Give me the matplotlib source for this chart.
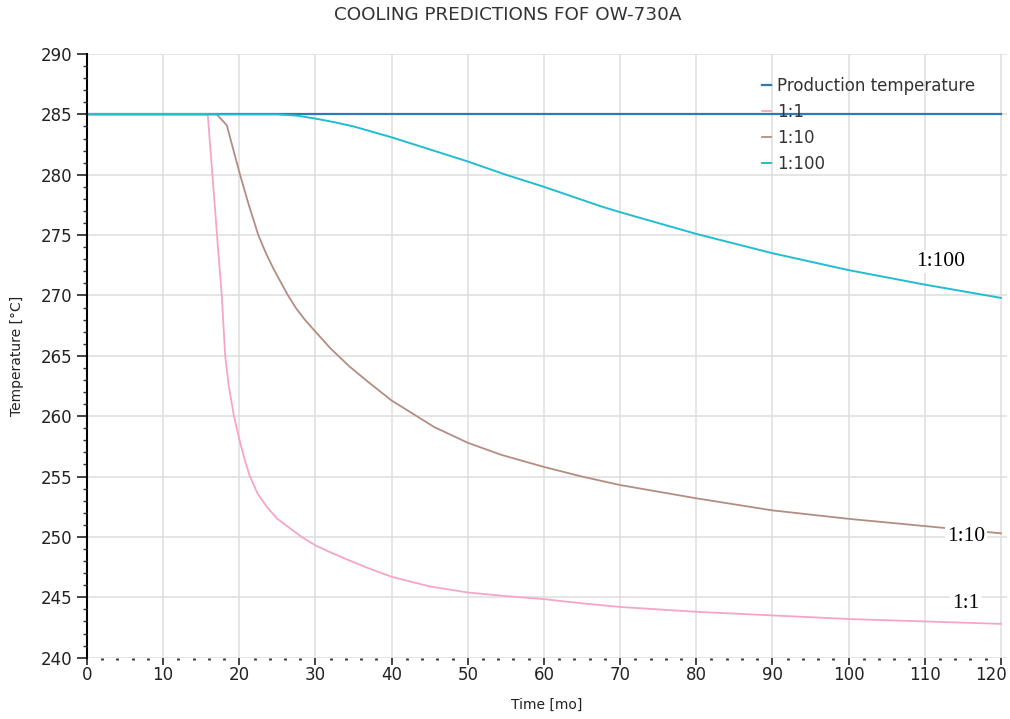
import numpy as np
import matplotlib.pyplot as plt
from matplotlib.ticker import MultipleLocator
from matplotlib.transforms import ScaledTranslation

# -------------------------
# Series (time in months, temperature in degC)
# -------------------------
prod_t = [0, 120]
prod_T = [285, 285]

r1_t = [0, 15.86, 16.47, 17.08, 17.7, 18.15, 18.6, 19.3, 20.2, 20.8, 21.4,
        22.4, 23.6, 25.0, 26.9, 28.2, 30, 31.7, 33.9, 37, 40, 45, 50, 55, 60,
        65, 70, 80, 90, 100, 110, 120]
r1_T = [285, 285, 280, 275, 270, 265, 262.6, 260, 257.6, 256.2, 255,
        253.6, 252.5, 251.5, 250.6, 250, 249.3, 248.8, 248.2, 247.4, 246.7,
        245.9, 245.4, 245.1, 244.85, 244.5, 244.2, 243.8, 243.5, 243.2,
        243.0, 242.8]

r10_t = [0, 17.04, 18.36, 20.1, 21.2, 22.5, 23.5, 24.5, 26.4, 27.5, 28.6, 30,
         32, 34.5, 37, 40, 45.6, 50, 54.4, 60, 65, 70, 80, 90, 100, 110, 120]
r10_T = [285, 285, 284.1, 280, 277.6, 275, 273.5, 272.2, 270, 268.9, 268.0,
         267.0, 265.6, 264.1, 262.8, 261.3, 259.1, 257.8, 256.8, 255.8, 255.0,
         254.3, 253.2, 252.2, 251.5, 250.9, 250.3]

r100_t = [0, 25, 27.5, 30, 32.5, 35, 40, 45, 50, 55, 60, 67.4, 70, 80, 90, 100,
          110, 120]
r100_T = [285, 285, 284.9, 284.65, 284.35, 284.0, 283.1, 282.1, 281.1, 280.0,
          279.0, 277.4, 276.9, 275.1, 273.5, 272.1, 270.9, 269.8]

# end-of-curve tags: (text, t, T)
tags = [("1:100", 112.1, 272.8), ("1:10", 115.4, 250.0), ("1:1", 115.4, 244.5)]

xticks = list(range(0, 121, 10))
yticks = list(range(240, 291, 5))

# -------------------------
# Figure
# -------------------------
fig = plt.figure(figsize=(10.1, 7.19), dpi=100)
ax = fig.add_axes([0.0861, 0.0853, 0.9109, 0.8396])

ax.plot(prod_t, prod_T, color='#2b7bba', lw=1.6, label='Production temperature')
ax.plot(r1_t, r1_T, color='#f6a5c8', lw=1.3, label='1:1')
ax.plot(r10_t, r10_T, color='#b48d82', lw=1.3, label='1:10')
ax.plot(r100_t, r100_T, color='#22bdd0', lw=1.4, label='1:100')

for txt, t, T in tags:
    ax.text(t, T, txt, family='Liberation Serif', fontsize=15.5, ha='center',
            va='center', color='black',
            bbox=dict(facecolor='white', edgecolor='none', pad=1.5))

ax.set_xlim(0, 120.8)
ax.set_ylim(240, 290)
ax.set_xticks(xticks)
ax.set_yticks(yticks)
ax.xaxis.set_minor_locator(MultipleLocator(2))
ax.yaxis.set_minor_locator(MultipleLocator(1))

ax.grid(True, which='major', color='#dedede', lw=1.1)
ax.set_axisbelow(True)

for s in ['top', 'right', 'bottom']:
    ax.spines[s].set_visible(False)
ax.spines['left'].set_color('black')
ax.spines['left'].set_linewidth(1.5)

ax.tick_params(axis='y', which='major', direction='out', length=7.5, width=1.2,
               labelsize=12, colors='#222222', pad=3)
ax.tick_params(axis='y', which='minor', direction='out', length=3, width=1.0,
               color='#333333')
ax.tick_params(axis='x', which='major', direction='out', length=5, width=1.2,
               labelsize=12, colors='#222222', pad=1)
ax.tick_params(axis='x', which='minor', direction='out', length=1.5, width=2.0,
               color='#333333')

# keep the last x label inside the canvas
last = ax.get_xticklabels()[-1]
last.set_transform(last.get_transform() +
                   ScaledTranslation(-7 / 72, 0, fig.dpi_scale_trans))

ax.set_xlabel('Time [mo]', fontsize=10, color='#222222', labelpad=10)
ax.set_ylabel('Temperature [°C]', fontsize=10, color='#222222', labelpad=12)
fig.text(0.503, 0.979, 'COOLING PREDICTIONS FOF OW-730A', fontsize=13.2,
         color='#333333', ha='center', va='center')

leg = ax.legend(loc='upper left', bbox_to_anchor=(0.727, 0.973), frameon=False,
                fontsize=12, handlelength=0.5, handletextpad=0.4,
                labelspacing=0.48, borderaxespad=0)
for t in leg.get_texts():
    t.set_color('#333333')

fig.savefig('out.png', dpi=100)
